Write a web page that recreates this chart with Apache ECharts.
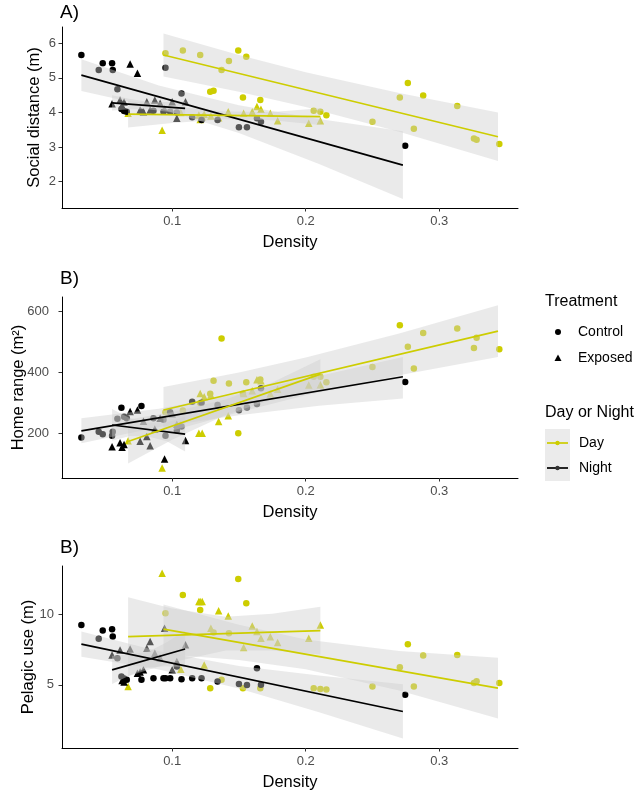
<!DOCTYPE html>
<html><head><meta charset="utf-8">
<script src="https://cdn.jsdelivr.net/npm/echarts@6/dist/echarts.min.js"></script>
<style>html,body{margin:0;padding:0;background:#fff}#c{width:636px;height:792px}</style>
</head><body><div id="c"></div>
<script>
// ---------- tick labels ----------
const xTicks = [0.1, 0.2, 0.3];
const yTicksA = [2, 3, 4, 5, 6];
const yTicksB = [200, 400, 600];
const yTicksC = [5, 10];
const panelTitles = ['A)', 'B)', 'B)'];
const yNames = ['Social distance (m)', 'Home range (m\u00B2)', 'Pelagic use (m)'];

// ---------- points: Night / Control ----------
const ncX = [0.032,0.045,0.048,0.055,0.0555,0.059,0.062,0.064,0.066,0.077,0.086,0.0935,0.095,0.0985,0.1035,0.107,0.115,0.122,0.134,0.15,0.156,0.1635,0.1665,0.2745];
const ncA = [5.66,5.23,5.42,5.42,5.23,4.67,4.10,4.04,4.02,4.02,4.05,4.02,5.29,4.02,4.00,4.55,3.86,3.78,3.78,3.57,3.57,3.83,3.73,3.04];
const ncB = [187,206,198,193,206,248,284,255,250,290,250,245,193,270,210,223,304,301,293,276,285,297,348,369];
const ncC = [9.24,8.27,8.84,8.94,8.42,6.89,5.58,5.45,5.35,5.35,5.47,5.47,5.47,5.47,6.3,5.40,5.47,5.47,5.23,5.06,4.99,6.18,5.0,4.29];

// ---------- points: Night / Exposed ----------
const neX = [0.055,0.061,0.0625,0.064,0.0685,0.074,0.076,0.0785,0.081,0.0835,0.087,0.091,0.0943,0.1,0.1035,0.110];
const neA = [4.25,4.36,4.20,4.30,5.40,5.13,4.07,4.02,4.31,4.07,4.36,4.27,4.10,4.31,3.83,4.31];
const neB = [157,170,155,164,272,277,175,240,190,160,215,250,117,265,230,177];
const neC = [7.12,7.47,5.30,5.20,7.54,5.82,5.90,6.06,7.59,8.06,7.24,6.90,9.00,6.06,6.65,7.83];

// ---------- points: Day / Control ----------
const dcX = [0.095,0.108,0.121,0.1285,0.131,0.137,0.1425,0.1495,0.1555,0.153,0.166,0.206,0.211,0.2155,0.25,0.2705,0.2765,0.281,0.288,0.3135,0.326,0.328,0.345];
const dcA = [5.71,5.79,5.66,4.60,4.63,5.23,5.49,5.79,5.61,4.43,4.36,4.05,4.02,3.92,3.73,4.43,4.85,3.53,4.49,4.19,3.25,3.21,3.09];
const dcB = [270,275,300,330,373,511,364,201,368,330,377,386,386,368,418,554,484,413,529,544,480,513,476];
const dcC = [10.07,11.37,10.30,4.76,8.70,5.35,8.65,12.50,10.78,4.76,4.76,4.76,4.70,4.66,4.88,6.25,7.88,4.88,7.07,7.12,5.13,5.25,5.12];

// ---------- points: Day / Exposed ----------
const deX = [0.067,0.0925,0.1065,0.12,0.121,0.1225,0.124,0.129,0.1348,0.142,0.1535,0.16,0.1635,0.1665,0.1735,0.179,0.2023,0.211];
const deA = [3.98,3.49,4.00,3.93,3.80,3.88,3.95,3.90,3.85,4.02,3.98,4.02,4.17,4.09,3.98,3.76,3.69,3.76];
const deB = [176,87,230,201,331,201,320,326,239,258,331,340,376,373,330,345,359,360];
const deC = [4.88,12.9,6.11,10.9,10.9,10.9,6.41,9.0,10.25,9.88,7.64,9.17,8.77,8.30,8.40,8.00,8.30,9.24];

// ---------- fitted lines (end values) and confidence bands ----------
const ncFitX = [0.032,0.09,0.15,0.21,0.2728];
const neFitX = [0.055,0.0685,0.082,0.096,0.1097];
const dcFitX = [0.0935,0.15,0.2,0.27,0.344];
const deFitX = [0.067,0.1,0.14,0.175,0.211];

const ncLineA = [5.08,2.48], ncLoA = [4.62,4.12,3.41,2.51,1.50], ncHiA = [5.54,4.78,4.21,3.81,3.46];
const neLineA = [4.28,4.12], neLoA = [4.06,4.09,4.09,4.02,3.92], neHiA = [4.50,4.39,4.31,4.30,4.32];
const dcLineA = [5.66,3.30], dcLoA = [5.04,4.60,4.16,3.44,2.60], dcHiA = [6.28,5.66,5.16,4.56,4.00];
const deLineA = [3.95,3.88], deLoA = [3.565,3.694,3.805,3.777,3.64], deHiA = [4.335,4.174,4.025,4.017,4.12];

const ncLineB = [208.6,385.7], ncLoB = [168,221,260,291,315], ncHiB = [250,281,330,388,450];
const neLineB = [228,198], neLoB = [176,192,190,175,141], neHiB = [280,250,236,236,255];
const dcLineB = [277,535], dcLoB = [202,270,325,391,450], dcHiB = [352,400,449,527,620];
const deLineB = [174,394.5], deLoB = [102,180,261,311,347], deHiB = [246,270,311,367,443];

const ncLineC = [7.88,3.11], ncLoC = [6.98,6.08,4.74,3.05,1.19], ncHiC = [8.78,7.38,6.34,5.65,5.04];
const neLineC = [6.06,7.54], neLoC = [5.06,5.67,6.24,6.31,6.24], neHiC = [7.06,7.17,7.34,8.01,8.84];
const dcLineC = [8.94,4.76], dcLoC = [7.19,6.75,6.11,4.59,2.61], dcHiC = [10.69,9.25,8.21,7.39,6.91];
const deLineC = [8.42,8.84], deLoC = [5.6,6.6,7.43,7.43,7.14], deHiC = [11.2,10.4,9.83,10.04,10.54];

// ---------- styling ----------
const YEL = '#CDCD00', BLK = '#000000';
const BAND = 'rgba(205,205,205,0.42)';
const FONT = 'Liberation Sans, Arial, sans-serif';

const grids = [
  {left:62, top:27, width:456, height:181, outerBoundsMode:'none', containLabel:false},
  {left:62, top:297, width:456, height:181, outerBoundsMode:'none', containLabel:false},
  {left:62, top:566, width:456, height:182, outerBoundsMode:'none', containLabel:false}
];
const yRanges = [[1.24,6.47],[54.5,646.7],[0.52,13.42]];
const yTickSets = [yTicksA, yTicksB, yTicksC];
const yNameGaps = [19, 35, 25];
const yLabelMargins = [6, 13, 8];

const pts = (xs, ys) => xs.map((x,i) => [x, ys[i]]);

function xAxisFor(i){
  return {gridIndex:i, type:'value', min:0.0175, max:0.359,
    name:'Density', nameLocation:'middle', nameGap:26, nameMoveOverlap:false,
    nameTextStyle:{fontFamily:FONT, fontSize:16.5, color:'#000'},
    splitLine:{show:false},
    axisLine:{show:true, onZero:false, lineStyle:{color:'#000', width:1}},
    axisTick:{show:true, length:3.5, customValues:xTicks, lineStyle:{color:'#333'}},
    axisLabel:{customValues:xTicks, margin:7, fontFamily:FONT, fontSize:13, color:'#4D4D4D', formatter:v=>v.toFixed(1)}
  };
}
function yAxisFor(i){
  return {gridIndex:i, type:'value', min:yRanges[i][0], max:yRanges[i][1],
    name:yNames[i], nameLocation:'middle', nameGap:yNameGaps[i], nameRotate:90, nameMoveOverlap:false,
    nameTextStyle:{fontFamily:FONT, fontSize:16.5, color:'#000'},
    splitLine:{show:false},
    axisLine:{show:true, onZero:false, lineStyle:{color:'#000', width:1}},
    axisTick:{show:true, length:3.5, customValues:yTickSets[i], lineStyle:{color:'#333'}},
    axisLabel:{customValues:yTickSets[i], margin:yLabelMargins[i], fontFamily:FONT, fontSize:13, color:'#4D4D4D', formatter:v=>String(v)}
  };
}
function scatter(gi, xs, ys, color, sym){
  return {type:'scatter', xAxisIndex:gi, yAxisIndex:gi, z:2, silent:true,
    symbol:sym, symbolSize: sym==='circle'?6.5:7.5,
    itemStyle:{color:color, opacity:1}, data:pts(xs,ys)};
}
function band(gi, rx, lo, hi){
  return {type:'custom', xAxisIndex:gi, yAxisIndex:gi, z:3, silent:true,
    data:[[rx[0], lo[0]]], encode:{x:0, y:1},
    renderItem:function(params, api){
      const p = [];
      for (let i=0;i<rx.length;i++) p.push(api.coord([rx[i], hi[i]]));
      for (let i=rx.length-1;i>=0;i--) p.push(api.coord([rx[i], lo[i]]));
      return {type:'polygon', shape:{points:p}, style:{fill:BAND}};
    }};
}
function fitLine(gi, rx, ly, color){
  return {type:'line', xAxisIndex:gi, yAxisIndex:gi, z:4, silent:true, symbol:'none',
    lineStyle:{color:color, width:1.7}, data:[[rx[0], ly[0]],[rx[rx.length-1], ly[1]]]};
}

const panelData = [
  {nc:ncA, ne:neA, dc:dcA, de:deA,
   fits:[[ncFitX,ncLineA,ncLoA,ncHiA,BLK],[neFitX,neLineA,neLoA,neHiA,BLK],[dcFitX,dcLineA,dcLoA,dcHiA,YEL],[deFitX,deLineA,deLoA,deHiA,YEL]]},
  {nc:ncB, ne:neB, dc:dcB, de:deB,
   fits:[[ncFitX,ncLineB,ncLoB,ncHiB,BLK],[neFitX,neLineB,neLoB,neHiB,BLK],[dcFitX,dcLineB,dcLoB,dcHiB,YEL],[deFitX,deLineB,deLoB,deHiB,YEL]]},
  {nc:ncC, ne:neC, dc:dcC, de:deC,
   fits:[[ncFitX,ncLineC,ncLoC,ncHiC,BLK],[neFitX,neLineC,neLoC,neHiC,BLK],[dcFitX,dcLineC,dcLoC,dcHiC,YEL],[deFitX,deLineC,deLoC,deHiC,YEL]]}
];

const series = [];
panelData.forEach((pd, gi) => {
  series.push(scatter(gi, dcX, pd.dc, YEL, 'circle'));
  series.push(scatter(gi, deX, pd.de, YEL, 'triangle'));
  series.push(scatter(gi, ncX, pd.nc, BLK, 'circle'));
  series.push(scatter(gi, neX, pd.ne, BLK, 'triangle'));
  pd.fits.forEach(f => series.push(band(gi, f[0], f[2], f[3])));
  pd.fits.forEach(f => series.push(fitLine(gi, f[0], f[1], f[4])));
});

const titleY = [13, 279, 548];
const graphic = [];
panelTitles.forEach((t, i) => graphic.push({type:'text', x:60, y:titleY[i],
  style:{text:t, font:'19px '+FONT, fill:'#000', verticalAlign:'middle'}}));

// legend
const LX = 545;
graphic.push({type:'text', x:LX, y:302, style:{text:'Treatment', font:'16px '+FONT, fill:'#000', verticalAlign:'middle'}});
graphic.push({type:'circle', shape:{cx:558, cy:332, r:3}, style:{fill:'#000'}});
graphic.push({type:'text', x:578, y:332, style:{text:'Control', font:'14px '+FONT, fill:'#000', verticalAlign:'middle'}});
graphic.push({type:'polygon', shape:{points:[[558,354.5],[554.5,361],[561.5,361]]}, style:{fill:'#000'}});
graphic.push({type:'text', x:578, y:358, style:{text:'Exposed', font:'14px '+FONT, fill:'#000', verticalAlign:'middle'}});
graphic.push({type:'text', x:LX, y:413, style:{text:'Day or Night', font:'16px '+FONT, fill:'#000', verticalAlign:'middle'}});
graphic.push({type:'rect', shape:{x:545, y:429, width:25, height:52}, style:{fill:'#EBEBEB'}});
graphic.push({type:'line', shape:{x1:547, y1:443, x2:568, y2:443}, style:{stroke:YEL, lineWidth:1.7}});
graphic.push({type:'circle', shape:{cx:557.5, cy:443, r:2.2}, style:{fill:YEL}});
graphic.push({type:'text', x:579, y:443, style:{text:'Day', font:'14px '+FONT, fill:'#000', verticalAlign:'middle'}});
graphic.push({type:'line', shape:{x1:547, y1:468, x2:568, y2:468}, style:{stroke:BLK, lineWidth:1.7}});
graphic.push({type:'circle', shape:{cx:557.5, cy:468, r:2.2}, style:{fill:'#333'}});
graphic.push({type:'text', x:579, y:468, style:{text:'Night', font:'14px '+FONT, fill:'#000', verticalAlign:'middle'}});

const chart = echarts.init(document.getElementById('c'), null, {renderer:'canvas'});
chart.setOption({
  animation:false,
  backgroundColor:'#fff',
  grid:grids,
  xAxis:[0,1,2].map(xAxisFor),
  yAxis:[0,1,2].map(yAxisFor),
  series:series,
  graphic:graphic
});
</script></body></html>
